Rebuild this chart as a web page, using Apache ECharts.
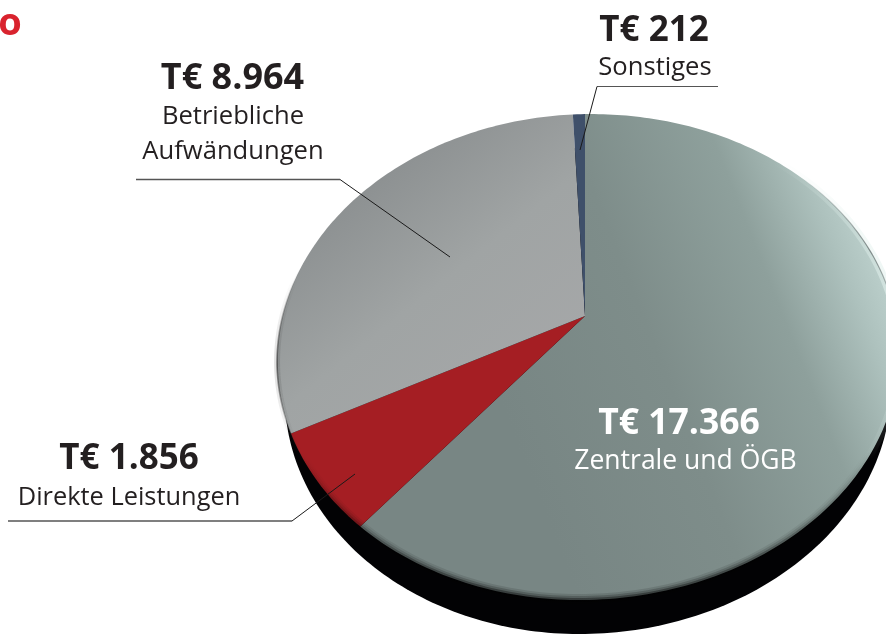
<!DOCTYPE html>
<html><head><meta charset="utf-8">
<style>html,body{margin:0;padding:0;background:#fff}#c{width:886px;height:637px}</style>
<script src="https://cdn.jsdelivr.net/npm/echarts@6/dist/echarts.min.js"></script>
</head><body><div id="c"></div>
<script>
const categories = ['Zentrale und ÖGB', 'Direkte Leistungen', 'Betriebliche Aufwändungen', 'Sonstiges'];
const values = [17366, 1856, 8964, 212];
const valueLabels = ['T€ 17.366', 'T€ 1.856', 'T€ 8.964', 'T€ 212'];

const total = values.reduce((a, b) => a + b, 0);
// perspective projection of the pie disc
const P = {x: 585, y: 316, aL: 303.5, aR: 309.5, b: 236, k: -0.169, shear: -0.015};
function project(deg, dy, scale) {
  const t = deg * Math.PI / 180, ux = Math.sin(t), uy = -Math.cos(t);
  const d = 1 + P.k * uy;
  const px = (ux < 0 ? P.aL : P.aR) * (scale || 1) * ux / d;
  const py = P.b * uy / d + P.shear * px;
  return [P.x + px, P.y + (dy || 0) + py];
}
function arc(from, to, dy, scale) {
  const pts = [], n = Math.max(2, Math.ceil(Math.abs(to - from)));
  for (let i = 0; i <= n; i++) pts.push(project(from + (to - from) * i / n, dy, scale));
  return pts;
}
const G = (x, y, x2, y2, stops) => ({type: 'linear', x, y, x2, y2, global: true,
  colorStops: stops.map(s => ({offset: s[0], color: s[1]}))});
const R = (x, y, r, stops) => ({type: 'radial', x, y, r, global: true,
  colorStops: stops.map(s => ({offset: s[0], color: s[1]}))});
const fills = [
  G(500, 400, 880, 250, [[0, '#788684'], [0.4, '#7e8d8a'], [0.72, '#8ea09c'], [0.9, '#adc1bd'], [1, '#bdd1cd']]),
  '#a51e23',
  G(340, 200, 500, 400, [[0, '#8c9091'], [0.5, '#a0a4a4'], [1, '#a5a7a8']]),
  '#3f506a'
];

function renderSlice(params, api) {
  const i = params.dataIndex;
  let start = 0;
  for (let j = 0; j < i; j++) start += values[j];
  const a0 = start / total * 360, a1 = (start + api.value(1)) / total * 360;
  return {type: 'polygon', shape: {points: [[P.x, P.y]].concat(arc(a0, a1))},
    style: {fill: fills[i], stroke: null}};
}
function renderSide(params, api) {
  return {type: 'polygon', shape: {points: arc(0, 360, 34, 0.975)}, style: {fill: '#020204'}};
}
function renderRim(params, api) {
  const pts = arc(0, 360);
  const rim = (lineWidth, stroke) => ({type: 'polyline', shape: {points: pts}, style: {fill: null, lineWidth, stroke}});
  const down = a => G(0, 450, 0, 590, [[0, 'rgba(0,0,0,0)'], [1, `rgba(0,0,0,${a})`]]);
  return {type: 'group', children: [
    rim(12, down(0.12)), rim(8, down(0.2)), rim(4, down(0.35)),
    rim(8, R(885, 290, 170, [[0, 'rgba(225,240,236,0.6)'], [1, 'rgba(225,240,236,0)']])),
    rim(1.2, R(870, 250, 100, [[0, 'rgba(50,60,60,0.55)'], [1, 'rgba(50,60,60,0)']])),
    rim(1.6, R(277, 365, 100, [[0, 'rgba(40,40,40,0.6)'], [1, 'rgba(40,40,40,0)']])),
    rim(6, R(277, 365, 90, [[0, 'rgba(40,40,40,0.15)'], [1, 'rgba(40,40,40,0)']]))
  ]};
}
const ff = '"Open Sans","Noto Sans",sans-serif';
const dark = '#231f20';
function txt(x, y, text, size, weight, color) {
  return {type: 'text', x, y, z: 20, style: {text, x: 0, y: 0, fill: color || dark, font: `${weight} ${size}px ${ff}`, align: 'center', verticalAlign: 'middle'}};
}
function line(points, w, c) {
  return {type: 'polyline', z: 15, shape: {points}, style: {stroke: c, lineWidth: w, fill: null}};
}
const chart = echarts.init(document.getElementById('c'), null, {renderer: 'canvas'});
chart.setOption({
  animation: false,
  backgroundColor: '#ffffff',
  series: [
    {type: 'custom', coordinateSystem: 'none', z: 1, silent: true, data: [[total]], renderItem: renderSide},
    {type: 'custom', coordinateSystem: 'none', z: 2, silent: true,
      data: categories.map((c, i) => [c, values[i]]), renderItem: renderSlice,
      encode: {itemName: 0, value: 1}},
    {type: 'custom', coordinateSystem: 'none', z: 3, silent: true, data: [[total]], renderItem: renderRim}
  ],
  graphic: {elements: [
    line([[136, 179.5], [340, 179.5]], 1.5, '#555'), line([[340, 179.5], [450, 257]], 1, '#1a1a1a'),
    line([[597, 86.5], [718, 86.5]], 1.2, '#555'), line([[597, 86.5], [580, 150]], 1, '#1a1a1a'),
    line([[8, 521], [292, 521]], 1.5, '#555'), line([[292, 521], [355, 474]], 1, '#1a1a1a'),
    txt(232.5, 79, valueLabels[2], 36, 700),
    txt(233, 116.5, 'Betriebliche', 25.6, 400),
    txt(233, 151.5, 'Aufwändungen', 25.6, 400),
    txt(654, 31, valueLabels[3], 35, 700),
    txt(655, 68, categories[3], 25.6, 400),
    txt(129, 459, valueLabels[1], 35, 700),
    txt(129, 498, categories[1], 25.4, 400),
    txt(679, 424, valueLabels[0], 35.5, 700, '#ffffff'),
    txt(685.5, 461, categories[0], 26.5, 400, '#ffffff'),
    txt(10, 24, 'o', 38, 700, '#d9232e')
  ]}
});
</script></body></html>
